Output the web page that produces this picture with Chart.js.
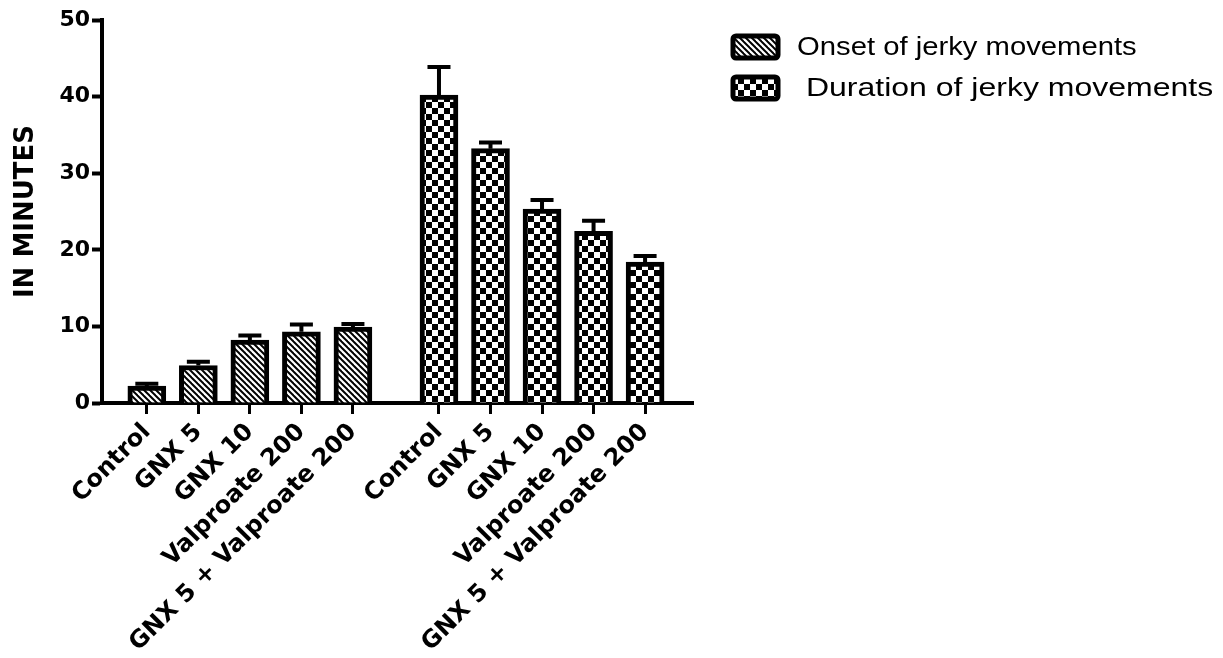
<!DOCTYPE html>
<html>
<head>
<meta charset="utf-8">
<script src="https://cdn.jsdelivr.net/npm/chart.js@4/dist/chart.umd.min.js"></script>
<style>
  body { margin: 0; background: white; }
  #wrap { width: 1223px; height: 658px; }
</style>
</head>
<body>
<div id="wrap"><canvas id="myChart" width="1223" height="658"></canvas></div>
<script>
// grupos e valores (minutos)
var groups = ['Control', 'GNX 5', 'GNX 10', 'Valproate 200', 'GNX 5 + Valproate 200']
var onsetMean = [2.2, 4.9, 8.2, 9.3, 9.9]
var onsetErr = [0.3, 0.5, 0.6, 0.95, 0.4]
var durationMean = [40.2, 33.2, 25.3, 22.4, 18.4]
var durationErr = [3.65, 0.8, 1.2, 1.4, 0.8]
var yTicks = [0, 10, 20, 30, 40, 50]
var seriesNames = ['Onset of jerky movements', ' Duration of jerky movements']

var FONT = "'DejaVu Sans', sans-serif"
var LEGFONT = "'Liberation Sans', Arial, sans-serif"
var GAP = 0.67 // espaco extra entre os dois blocos
var legStretch = [1.17, 1.28]

function pos(g, i) {
    return g * (5 + GAP) + i
}

function hatch() {
    var c = document.createElement('canvas')
    c.width = 6; c.height = 6
    var x = c.getContext('2d')
    x.fillStyle = 'white'
    x.fillRect(0, 0, 6, 6)
    x.strokeStyle = 'black'
    x.lineWidth = 2
    for (var k = -1; k <= 1; k++) {
        x.beginPath()
        x.moveTo(k * 6 - 1, -1)
        x.lineTo(k * 6 + 7, 7)
        x.stroke()
    }
    return x.createPattern(c, 'repeat')
}

function checker() {
    var c = document.createElement('canvas')
    c.width = 12; c.height = 12
    var x = c.getContext('2d')
    x.fillStyle = 'white'
    x.fillRect(0, 0, 12, 12)
    x.fillStyle = 'black'
    x.fillRect(0, 0, 6, 6)
    x.fillRect(6, 6, 6, 6)
    return x.createPattern(c, 'repeat')
}

var tickPositions = []
var tickLabels = []
for (var g = 0; g < 2; g++) {
    for (var i = 0; i < groups.length; i++) {
        tickPositions.push(pos(g, i))
        tickLabels.push(groups[i])
    }
}

var errs = [onsetErr, durationErr]

// barras de erro (so para cima)
var errorBars = {
    id: 'errorBars',
    afterDatasetsDraw: function (chart) {
        var ctx = chart.ctx
        var ys = chart.scales.y
        ctx.save()
        ctx.strokeStyle = 'black'
        ctx.lineWidth = 4
        chart.data.datasets.forEach(function (ds, d) {
            var meta = chart.getDatasetMeta(d)
            meta.data.forEach(function (bar, i) {
                var top = ys.getPixelForValue(ds.data[i].y + errs[d][i])
                ctx.beginPath()
                ctx.moveTo(bar.x, bar.y)
                ctx.lineTo(bar.x, top)
                ctx.moveTo(bar.x - 11.5, top)
                ctx.lineTo(bar.x + 11.5, top)
                ctx.stroke()
            })
        })
        ctx.restore()
    }
}

// legenda desenhada a mao
var myLegend = {
    id: 'myLegend',
    afterDraw: function (chart) {
        var ctx = chart.ctx
        ctx.save()
        chart.data.datasets.forEach(function (ds, d) {
            var bx = 733, by = 36 + d * 41
            ctx.beginPath()
            ctx.roundRect(bx, by, 45, 22, 3)
            ctx.fillStyle = ds.backgroundColor
            ctx.fill()
            ctx.lineWidth = 5
            ctx.strokeStyle = 'black'
            ctx.stroke()
            ctx.save()
            ctx.translate(797, by + 11)
            ctx.scale(legStretch[d], 1)
            ctx.fillStyle = 'black'
            ctx.font = '25px ' + LEGFONT
            ctx.textBaseline = 'middle'
            ctx.fillText(seriesNames[d], 0, 1)
            ctx.restore()
        })
        ctx.restore()
    }
}

var myChart = document.getElementById('myChart').getContext('2d')
var chart = new Chart(myChart, {
    type: 'bar',
    data: {
        datasets: [{
            label: seriesNames[0],
            data: onsetMean.map(function (v, i) { return { x: pos(0, i), y: v } }),
            backgroundColor: hatch(),
            borderColor: 'black',
            borderWidth: 5,
            barThickness: 38
        }, {
            label: seriesNames[1],
            data: durationMean.map(function (v, i) { return { x: pos(1, i), y: v } }),
            backgroundColor: checker(),
            borderColor: 'black',
            borderWidth: 5,
            barThickness: 38
        }]
    },
    options: {
        responsive: false,
        animation: false,
        grouped: false,
        layout: { padding: { left: 0, top: 20, right: 530, bottom: 0 } },
        plugins: {
            legend: { display: false },
            tooltip: { enabled: false }
        },
        scales: {
            x: {
                type: 'linear',
                offset: false,
                min: -0.87,
                max: 10.6,
                afterBuildTicks: function (scale) {
                    scale.ticks = tickPositions.map(function (v) { return { value: v } })
                },
                afterFit: function (scale) {
                    scale.height = 255
                },
                ticks: {
                    autoSkip: false,
                    maxRotation: 45,
                    minRotation: 45,
                    padding: 4,
                    color: 'black',
                    font: { family: FONT, size: 24, weight: 'bold' },
                    callback: function (value, index) {
                        return tickLabels[index]
                    }
                },
                grid: {
                    offset: false,
                    drawOnChartArea: false,
                    drawTicks: true,
                    tickLength: 11,
                    tickWidth: 3,
                    tickColor: 'black'
                },
                border: { display: true, color: 'black', width: 4 }
            },
            y: {
                min: 0,
                max: 50,
                afterBuildTicks: function (scale) {
                    scale.ticks = yTicks.map(function (v) { return { value: v } })
                },
                afterFit: function (scale) {
                    scale.width = 102
                },
                title: {
                    display: true,
                    text: 'IN MINUTES',
                    color: 'black',
                    padding: { top: 11, bottom: 0 },
                    font: { family: FONT, size: 26, weight: 'bold' }
                },
                ticks: {
                    padding: 2,
                    color: 'black',
                    font: { family: FONT, size: 22, weight: 'bold' }
                },
                grid: {
                    drawOnChartArea: false,
                    drawTicks: true,
                    tickLength: 10,
                    tickWidth: 4,
                    tickColor: 'black'
                },
                border: { display: true, color: 'black', width: 4 }
            }
        }
    },
    plugins: [errorBars, myLegend]
})
</script>
</body>
</html>
